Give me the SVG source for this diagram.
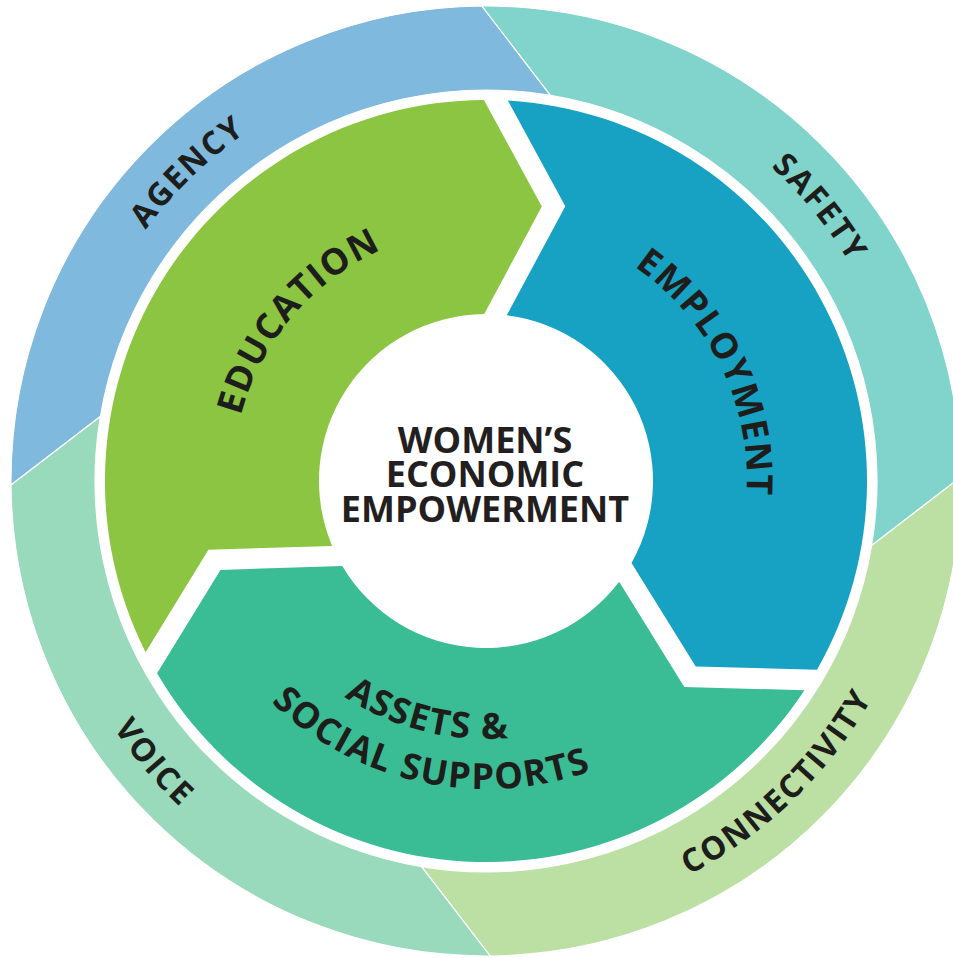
<svg xmlns="http://www.w3.org/2000/svg" xmlns:xlink="http://www.w3.org/1999/xlink" width="953" height="958" viewBox="0 0 953 958">
<style>
.ring{stroke:#fff;stroke-width:1.2}
.lbl{font-family:"Open Sans","Liberation Sans",sans-serif;font-weight:700;fill:#1d1d1b}
.outer{font-size:32px;letter-spacing:2px}
.inner{font-size:36px;letter-spacing:1.5px}
.center{font-family:"Open Sans","Liberation Sans",sans-serif;font-weight:700;fill:#231f20;font-size:36px;text-anchor:middle}
</style>
<defs>
<path id="segShape" d="M145.6,652.2 A381,381 0 0 1 483.9,100.0 L541.8,206.6 L484.2,314.0 A167,167 0 0 0 332.1,545.9 L208.4,549.7 Z"/>
<path id="pAgency" d="M76.5,583.1 A421,421 0 0 1 602.3,75.4"/>
<path id="pSafety" d="M417.6,63.6 A422,422 0 0 1 881.7,630.5"/>
<path id="pConn" d="M363.9,906.8 A443,443 0 0 0 915.8,373.8"/>
<path id="pVoice" d="M65.2,330.3 A447,447 0 0 0 565.9,920.8"/>
<path id="pEdu" d="M247.7,565.9 A252,252 0 0 1 531.7,232.2"/>
<path id="pEmp" d="M504.1,221.6 A259,259 0 0 1 701.6,626.4"/>
<path id="pAssets" d="M238.0,552.1 A258,258 0 0 0 671.6,660.2"/>
<path id="pSocial" d="M192.1,576.5 A310,310 0 0 0 715.6,687.8"/>
</defs>
<rect width="953" height="958" fill="#fff"/>
<g id="agency">
<path class="ring" fill="#7fb9dd" d="M11.0,485.1 A475,475 0 0 1 481.9,6.0 L550.5,95.4 A391,391 0 0 0 100.4,416.5 Z"/>
<text class="lbl outer"><textPath href="#pAgency" startOffset="50%" text-anchor="middle">AGENCY</textPath></text>
</g>
<g id="safety">
<path class="ring" fill="#80d4cb" d="M481.9,6.0 A475,475 0 0 1 961.0,476.9 L871.6,545.5 A391,391 0 0 0 550.5,95.4 Z"/>
<text class="lbl outer"><textPath href="#pSafety" startOffset="50%" text-anchor="middle">SAFETY</textPath></text>
</g>
<g id="connectivity">
<path class="ring" fill="#bce0a4" d="M961.0,476.9 A475,475 0 0 1 490.1,956.0 L421.5,866.6 A391,391 0 0 0 871.6,545.5 Z"/>
<text class="lbl outer"><textPath href="#pConn" startOffset="50%" text-anchor="middle">CONNECTIVITY</textPath></text>
</g>
<g id="voice">
<path class="ring" fill="#98dabb" d="M490.1,956.0 A475,475 0 0 1 11.0,485.1 L100.4,416.5 A391,391 0 0 0 421.5,866.6 Z"/>
<text class="lbl outer"><textPath href="#pVoice" startOffset="50%" text-anchor="middle">VOICE</textPath></text>
</g>
<g id="education">
<use href="#segShape" fill="#8bc541"/>
<text class="lbl inner"><textPath href="#pEdu" startOffset="50%" text-anchor="middle">EDUCATION</textPath></text>
</g>
<g id="employment">
<use href="#segShape" fill="#17a2c4" transform="rotate(120 486 481)"/>
<text class="lbl inner"><textPath href="#pEmp" startOffset="50%" text-anchor="middle">EMPLOYMENT</textPath></text>
</g>
<g id="assets">
<use href="#segShape" fill="#3abc94" transform="rotate(240 486 481)"/>
<text class="lbl inner"><textPath href="#pAssets" startOffset="50%" text-anchor="middle">ASSETS &amp;</textPath></text>
<text class="lbl inner"><textPath href="#pSocial" startOffset="50%" text-anchor="middle">SOCIAL SUPPORTS</textPath></text>
</g>
<g id="wee">
<text class="center" x="485" y="453">WOMEN’S</text>
<text class="center" x="485" y="487">ECONOMIC</text>
<text class="center" x="485" y="522">EMPOWERMENT</text>
</g>
<g id="connectors"/>
</svg>
